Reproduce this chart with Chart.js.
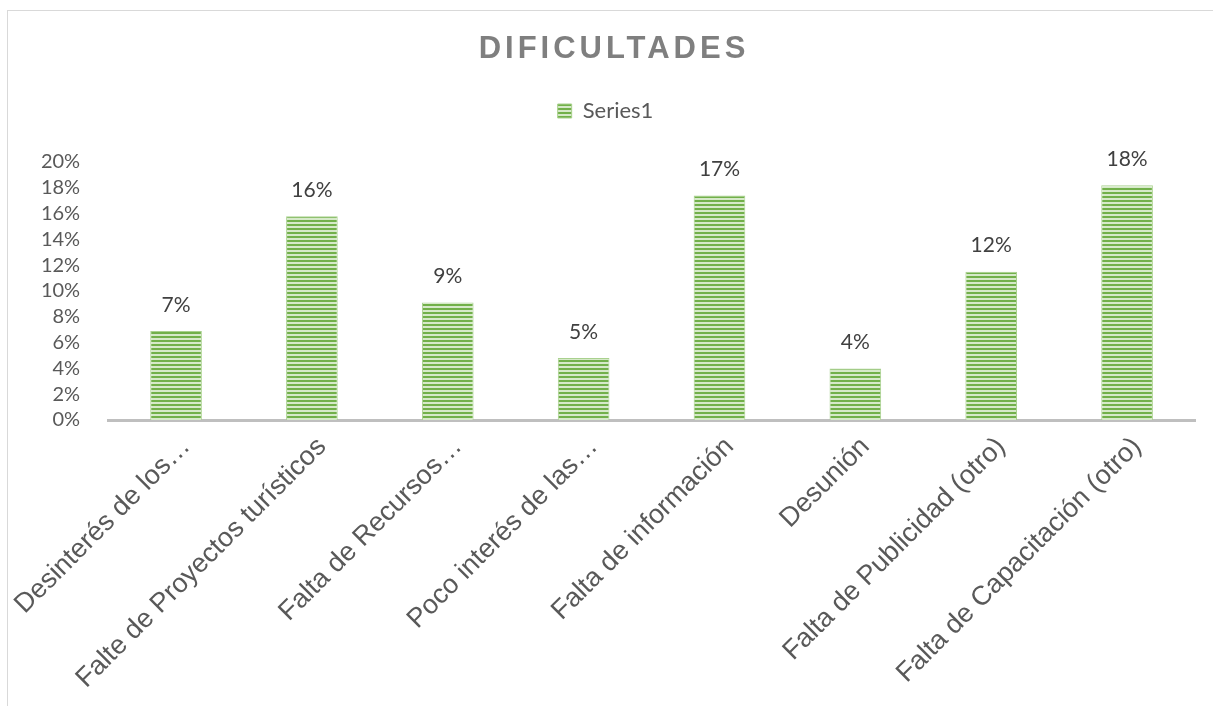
<!DOCTYPE html>
<html>
<head>
<meta charset="utf-8">
<script src="https://cdn.jsdelivr.net/npm/chart.js@4.4.0/dist/chart.umd.min.js"></script>
<style>
    body { margin: 0; background: #fff; }
    #wrap { position: relative; width: 1213px; height: 706px; overflow: hidden; }
    #frame { position: absolute; left: 7px; top: 10px; width: 1230px; height: 720px; border: 1px solid #d9d9d9; }
    #chartDificultades { position: absolute; left: 0; top: 0; }
</style>
</head>
<body>
<div id="wrap">
    <div id="frame"></div>
    <canvas id="chartDificultades" width="1213" height="706"></canvas>
</div>
<script>
// data -----------------------------------------------------------------
var chartTitle = 'DIFICULTADES';
var seriesName = 'Series1';
var categorias = [
    'Desinterés de los…',
    'Falte de Proyectos turísticos',
    'Falta de Recursos…',
    'Poco interés de las…',
    'Falta de información',
    'Desunión',
    'Falta de Publicidad (otro)',
    'Falta de Capacitación (otro)'
];
var valores = [6.9, 15.8, 9.1, 4.8, 17.4, 4.0, 11.5, 18.2];
var ejeMax = 20;
var ejePaso = 2;

// striped green fill, like the excel pattern
function stripes () {
    var c = document.createElement('canvas');
    c.width = 4;
    c.height = 4;
    var g = c.getContext('2d');
    g.fillStyle = '#d6e9c9';
    g.fillRect(0, 0, 4, 4);
    g.fillStyle = '#72b04a';
    g.fillRect(0, 0, 4, 2);
    return g.createPattern(c, 'repeat');
}

var ctx = document.getElementById('chartDificultades').getContext('2d');
var relleno = stripes();

// title with letter spacing (chart.js title can't space letters)
var titlePlugin = {
    id: 'spacedTitle',
    afterDraw: function (chart) {
        var c = chart.ctx;
        c.save();
        c.font = 'bold 31px "Liberation Sans", Arial, sans-serif';
        c.fillStyle = '#7f7f7f';
        c.textAlign = 'center';
        c.textBaseline = 'middle';
        if ('letterSpacing' in c) c.letterSpacing = '4px';
        c.fillText(chartTitle, 614, 49);
        c.restore();
    }
};

// extra room under the legend
var legendGap = {
    id: 'legendGap',
    afterInit: function (chart) {
        var lg = chart.legend;
        var fit = lg.fit;
        lg.fit = function () {
            fit.call(this);
            this.height += 30;
        };
    }
};

// value labels over the bars
var valueLabels = {
    id: 'valueLabels',
    afterDatasetsDraw: function (chart) {
        var c = chart.ctx;
        var meta = chart.getDatasetMeta(0);
        c.save();
        c.font = '21px Lato, "Open Sans", sans-serif';
        c.fillStyle = '#404040';
        c.textAlign = 'center';
        c.textBaseline = 'middle';
        meta.data.forEach(function (bar, i) {
            c.fillText(Math.round(valores[i]) + '%', bar.x, bar.y - 26);
        });
        c.restore();
    }
};

Chart.defaults.font.family = 'Lato, "Open Sans", sans-serif';
Chart.defaults.color = '#595959';

var chart = new Chart(ctx, {
    type: 'bar',
    data: {
        labels: categorias,
        datasets: [{
            label: seriesName,
            data: valores,
            backgroundColor: relleno,
            borderColor: '#a9d18e',
            borderWidth: 1,
            barPercentage: 0.76,
            categoryPercentage: 0.5
        }]
    },
    options: {
        responsive: false,
        animation: false,
        layout: {
            padding: { top: 86, right: 18, left: 16, bottom: 0 }
        },
        plugins: {
            legend: {
                position: 'top',
                labels: {
                    boxWidth: 14,
                    boxHeight: 14,
                    font: { size: 22 },
                    color: '#595959',
                    padding: 14
                }
            },
            tooltip: { enabled: false }
        },
        scales: {
            x: {
                grid: { display: false },
                border: { display: true, color: '#bfbfbf', width: 3 },
                afterFit: function (scale) { scale.height = 286; },
                ticks: {
                    maxRotation: 45,
                    minRotation: 45,
                    autoSkip: false,
                    labelOffset: 10,
                    color: '#595959',
                    font: { family: '"Liberation Sans", Arial, sans-serif', size: 27 }
                }
            },
            y: {
                min: 0,
                max: ejeMax,
                grid: { display: false },
                border: { display: false },
                ticks: {
                    stepSize: ejePaso,
                    autoSkip: false,
                    padding: 20,
                    color: '#595959',
                    font: { size: 20 },
                    callback: function (v) { return v + '%'; }
                }
            }
        }
    },
    plugins: [titlePlugin, legendGap, valueLabels]
});
</script>
</body>
</html>
